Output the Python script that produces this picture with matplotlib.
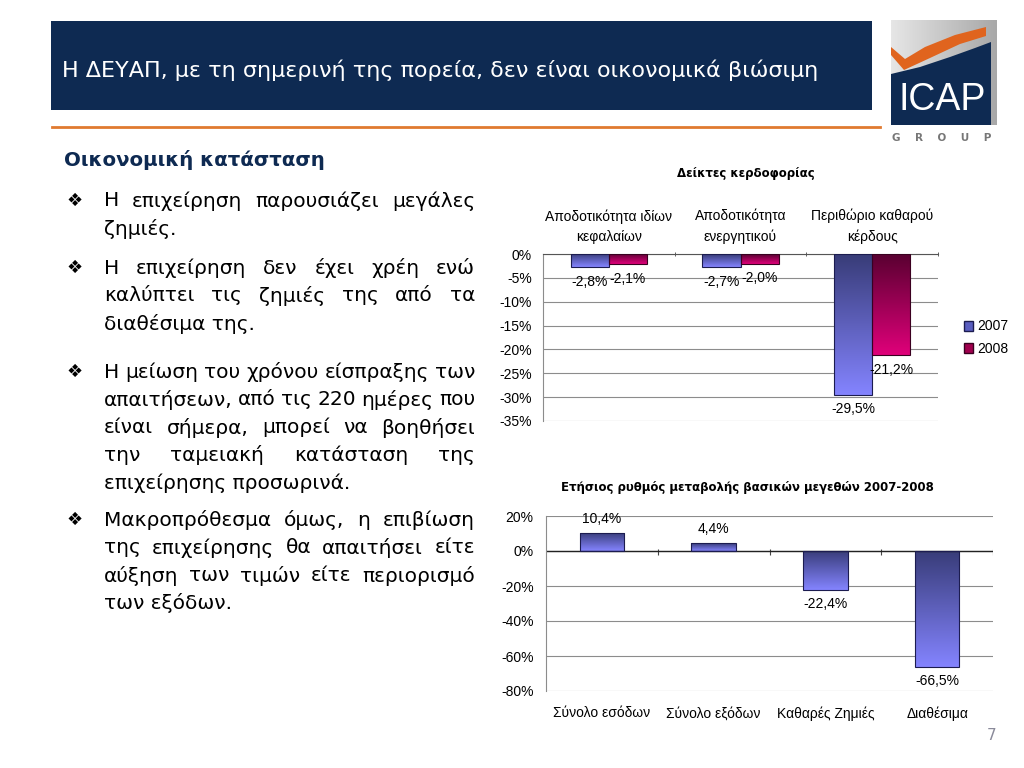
import numpy as np
import matplotlib
matplotlib.use("Agg")
import matplotlib.pyplot as plt
from matplotlib.colors import LinearSegmentedColormap
from matplotlib.patches import Rectangle, Polygon, Patch

W, H = 1024, 768

# --- data ---
profit_labels = ["Αποδοτικότητα ιδίων\nκεφαλαίων", "Αποδοτικότητα\nενεργητικού",
                 "Περιθώριο καθαρού\nκέρδους"]
profit_2007 = [-2.8, -2.7, -29.5]
profit_2008 = [-2.1, -2.0, -21.2]
profit_ticks = [0, -5, -10, -15, -20, -25, -30, -35]

change_labels = ["Σύνολο εσόδων", "Σύνολο εξόδων", "Καθαρές Ζημιές", "Διαθέσιμα"]
change_values = [10.4, 4.4, -22.4, -66.5]
change_ticks = [20, 0, -20, -40, -60, -80]

slide_title = "Η ΔΕΥΑΠ, με τη σημερινή της πορεία, δεν είναι οικονομικά βιώσιμη"
section_title = "Οικονομική κατάσταση"
bullets = [
    ["Η επιχείρηση παρουσιάζει μεγάλες", "ζημιές."],
    ["Η επιχείρηση δεν έχει χρέη ενώ", "καλύπτει τις ζημιές της από τα",
     "διαθέσιμα της."],
    ["Η μείωση του χρόνου είσπραξης των", "απαιτήσεων, από τις 220 ημέρες που",
     "είναι σήμερα, μπορεί να βοηθήσει", "την ταμειακή κατάσταση της",
     "επιχείρησης προσωρινά."],
    ["Μακροπρόθεσμα όμως, η επιβίωση", "της επιχείρησης θα απαιτήσει είτε",
     "αύξηση των τιμών είτε περιορισμό", "των εξόδων."],
]
bullet_y = [201, 268, 372, 520]

NAVY = "#0e2a52"
C07 = ("#383c78", "#8484ff")
C08 = ("#580030", "#e0007a")
chart_font = "Liberation Sans"
CFS = 10

plt.rcParams["font.family"] = ["DejaVu Sans"]
fig = plt.figure(figsize=(W / 100, H / 100), dpi=100)

# background / decoration layer in pixel coordinates
bg = fig.add_axes([0, 0, 1, 1], zorder=0)
bg.axis("off")
bg.add_patch(Rectangle((51, 21), 821, 89, facecolor=NAVY, edgecolor="none"))
bg.plot([52, 880], [127, 127], color="#e07a30", lw=2)
bg.text(62, 70, slide_title, color="white", fontsize=16, va="center", ha="left")

# logo
logo_grad = np.linspace(0, 1, 100).reshape(1, -1)
bg.imshow(logo_grad, extent=(891, 997, 125, 20), cmap=LinearSegmentedColormap.from_list(
    "g", ["#e6e6e6", "#a8a8a8"]), aspect="auto", zorder=1)
bg.add_patch(Polygon([(891, 125), (891, 74), (920, 67), (950, 57), (975, 48), (991, 42),
                      (991, 125)], closed=True, facecolor=NAVY, edgecolor="none", zorder=2))
bg.add_patch(Polygon([(891, 55), (904, 70), (930, 58), (960, 44), (986, 36), (986, 27),
                      (955, 35), (925, 47), (905, 59), (891, 47)], closed=True,
                     facecolor="#e0641e", edgecolor="none", zorder=3))
bg.text(942, 100, "ICAP", color="white", fontsize=27, ha="center", va="center",
        family="Liberation Sans", zorder=4)
bg.text(942, 138, "G    R    O    U    P", color="#777777", fontsize=7.5, ha="center",
        va="center", fontweight="bold", zorder=4)
bg.set_xlim(0, W)
bg.set_ylim(H, 0)

bg.text(992, 736, "7", color="#8a8a9a", fontsize=11, ha="center", va="center")

# left text
bg.text(64, 160, section_title, color=NAVY, fontsize=14.2, fontweight="bold", va="center")
fig.canvas.draw()
renderer = fig.canvas.get_renderer()
TEXT_FS = 14.5
LINE = 27.8
X0, X1 = 104, 475


def text_width(s):
    t = bg.text(0, 0, s, fontsize=TEXT_FS)
    w = t.get_window_extent(renderer).width
    t.remove()
    return w


for lines, y0 in zip(bullets, bullet_y):
    bg.text(75, y0, "❖", fontsize=13, ha="center", va="center", color="black")
    for i, line in enumerate(lines):
        y = y0 + i * LINE
        words = line.split(" ")
        last = i == len(lines) - 1
        if last or len(words) == 1:
            bg.text(X0, y, line, fontsize=TEXT_FS, va="center", ha="left")
            continue
        widths = [text_width(w) for w in words]
        gap = (X1 - X0 - sum(widths)) / (len(words) - 1)
        x = X0
        for w, wd in zip(words, widths):
            bg.text(x, y, w, fontsize=TEXT_FS, va="center", ha="left")
            x += wd + gap


def gradient_bars(ax, bars, colors):
    cmap = LinearSegmentedColormap.from_list("c", list(colors))
    grad = np.linspace(0, 1, 256).reshape(-1, 1)
    for p in bars:
        x, y, w, h = p.get_x(), p.get_y(), p.get_width(), p.get_height()
        y0, y1 = min(y, y + h), max(y, y + h)
        im = ax.imshow(grad, extent=(x, x + w, y0, y1), origin="upper", cmap=cmap,
                       aspect="auto", zorder=2)
        im.set_clip_path(p)


# --- top chart ---
ax1 = fig.add_axes([543 / W, 1 - 421 / H, 395 / W, 167 / H], zorder=2)
ax1.set_facecolor("none")
xs = np.arange(len(profit_labels))
bw = 0.29
b07 = ax1.bar(xs - bw / 2, profit_2007, bw, facecolor="none", edgecolor="#1c1c50",
              lw=0.8, zorder=3)
b08 = ax1.bar(xs + bw / 2, profit_2008, bw, facecolor="none", edgecolor="#3a0020",
              lw=0.8, zorder=3)
gradient_bars(ax1, b07, C07)
gradient_bars(ax1, b08, C08)
for p, v in zip(list(b07) + list(b08), profit_2007 + profit_2008):
    ax1.text(p.get_x() + p.get_width() / 2, v - 1.6, f"{v:.1f}%".replace(".", ","),
             ha="center", va="top", fontsize=CFS, family=chart_font, zorder=4)
ax1.set_xlim(-0.5, 2.5)
ax1.set_ylim(-35, 0)
ax1.set_yticks(profit_ticks)
ax1.set_yticklabels([f"{t}%" for t in profit_ticks], family=chart_font, fontsize=CFS)
ax1.yaxis.grid(True, color="#8c8c8c", lw=0.8)
ax1.set_axisbelow(True)
ax1.tick_params(axis="y", length=0, pad=8)
ax1.xaxis.tick_top()
ax1.set_xticks(xs)
ax1.set_xticklabels(profit_labels, family=chart_font, fontsize=CFS, linespacing=1.55)
ax1.set_xticks([0.5, 1.5, 2.5], minor=True)
ax1.tick_params(axis="x", which="major", length=0, pad=7)
ax1.tick_params(axis="x", which="minor", length=3, direction="inout", color="#444444")
for s in ["right", "bottom"]:
    ax1.spines[s].set_visible(False)
ax1.spines["left"].set_color("#8c8c8c")
ax1.spines["top"].set_color("#555555")
fig.text(746 / W, 1 - 174 / H, "Δείκτες κερδοφορίας", ha="center", va="center",
         fontsize=8.5, fontweight="bold", family="DejaVu Sans")
handles = [Patch(facecolor="#5a5ec0", edgecolor="#1c1c50", label="2007"),
           Patch(facecolor="#a0004e", edgecolor="#3a0020", label="2008")]
fig.legend(handles=handles, loc="upper left", bbox_to_anchor=(951 / W, 1 - 307 / H),
           frameon=False, prop={"family": chart_font, "size": CFS}, handlelength=0.7,
           handleheight=0.7, handletextpad=0.3, labelspacing=0.6)

# --- bottom chart ---
ax2 = fig.add_axes([546 / W, 1 - 691 / H, 447 / W, 175 / H], zorder=2)
ax2.set_facecolor("none")
xc = np.arange(len(change_labels))
bc = ax2.bar(xc, change_values, 0.4, facecolor="none", edgecolor="#1c1c50", lw=0.8,
             zorder=3)
gradient_bars(ax2, bc, C07)
for p, v in zip(bc, change_values):
    off = 4 if v > 0 else -4
    ax2.text(p.get_x() + p.get_width() / 2, v + off, f"{v:.1f}%".replace(".", ","),
             ha="center", va="bottom" if v > 0 else "top", fontsize=CFS,
             family=chart_font, zorder=4)
ax2.set_xlim(-0.5, 3.5)
ax2.set_ylim(-80, 20)
ax2.set_yticks(change_ticks)
ax2.set_yticklabels([f"{t}%" for t in change_ticks], family=chart_font, fontsize=CFS)
ax2.yaxis.grid(True, color="#8c8c8c", lw=0.8)
ax2.set_axisbelow(True)
ax2.axhline(0, color="#222222", lw=1, zorder=2.5)
ax2.vlines(xc + 0.5, -2, 1, color="#444444", lw=0.8)
ax2.tick_params(axis="y", length=0, pad=9)
ax2.set_xticks(xc)
ax2.set_xticklabels(change_labels, family=chart_font, fontsize=CFS)
ax2.tick_params(axis="x", length=0, pad=11)
for s in ["right", "top", "bottom"]:
    ax2.spines[s].set_visible(False)
ax2.spines["left"].set_color("#8c8c8c")
fig.text(747 / W, 1 - 487 / H, "Ετήσιος ρυθμός μεταβολής βασικών μεγεθών 2007-2008",
         ha="center", va="center", fontsize=8.5, fontweight="bold", family="DejaVu Sans")

fig.savefig("out.png", dpi=100)
